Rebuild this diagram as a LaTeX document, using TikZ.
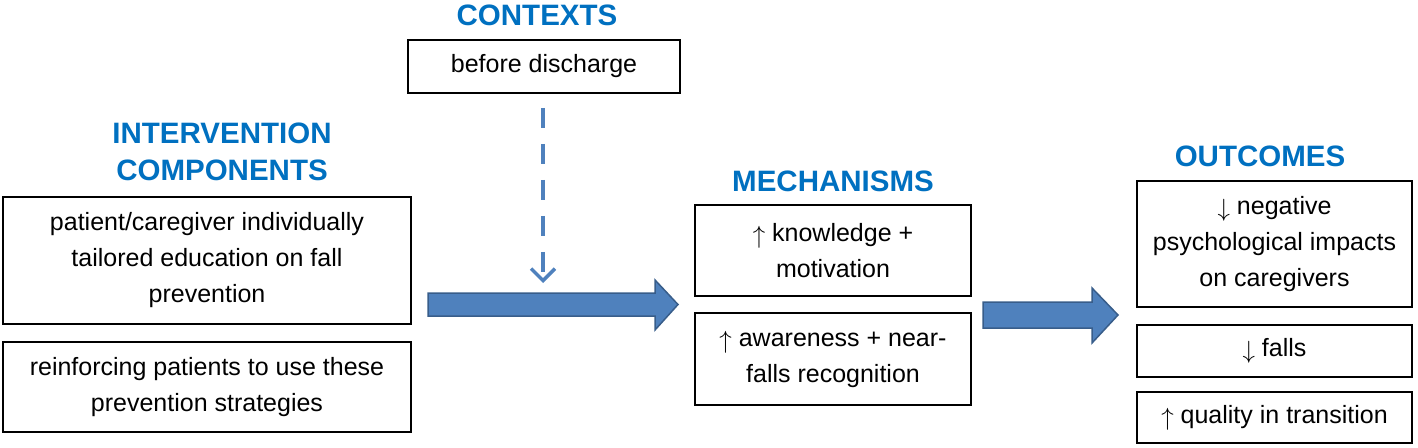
\documentclass[tikz,border=0pt]{standalone}
\usepackage{fontspec}
\setmainfont{Liberation Sans}
\usetikzlibrary{arrows.meta}
\definecolor{ttl}{HTML}{0070C0}
\definecolor{arrfill}{HTML}{4F81BD}
\definecolor{arrdraw}{HTML}{385D8A}
\newcommand{\myup}{\raisebox{-0.08em}{$\uparrow$}}
\newcommand{\mydown}{\raisebox{-0.08em}{$\downarrow$}}
\tikzset{
  box/.style={draw=black, line width=1.6pt, align=center, inner sep=0pt,
    font=\fontsize{25}{36}\selectfont},
  ttlnode/.style={text=ttl, font=\fontsize{29.5}{37}\selectfont\bfseries, align=center, inner sep=0pt},
  fatarrow/.style={fill=arrfill, draw=arrdraw, line width=1.5pt, line join=miter},
  dasharrow/.style={draw=arrfill, line width=3.5pt, dash pattern=on 20pt off 16pt,
    -{Straight Barb[length=12pt,width=24pt,line width=3.5pt]}}
}
\begin{document}
\begin{tikzpicture}[x=1pt,y=-1pt]
\useasboundingbox (0,0) rectangle (1418,447);
% titles
\node[ttlnode] (tctx) at (537,15) {CONTEXTS};
\node[ttlnode] (tint) at (222,152) {INTERVENTION\\COMPONENTS};
\node[ttlnode] (tmech) at (833,181) {MECHANISMS};
\node[ttlnode] (tout) at (1260,156) {OUTCOMES};
% boxes
\node[box, minimum width=272pt, minimum height=53pt] (ctx) at (544,66.5) {\raisebox{-2pt}{before discharge}};
\node[box, minimum width=408pt, minimum height=127pt] (ic1) at (207,260.5)
  {patient/caregiver individually\\tailored education on fall\\prevention};
\node[box, minimum width=408pt, minimum height=90pt] (ic2) at (207,387)
  {reinforcing patients to use these\\prevention strategies};
\node[box, minimum width=276pt, minimum height=91pt] (m1) at (833,250.5)
  {\myup{} knowledge +\\motivation};
\node[box, minimum width=276pt, minimum height=92pt] (m2) at (833,359)
  {\myup{} awareness + near-\\falls recognition};
\node[box, minimum width=275pt, minimum height=126pt] (o1) at (1274.5,244)
  {\mydown{} negative\\psychological impacts\\on caregivers};
\node[box, minimum width=275pt, minimum height=52pt] (o2) at (1274.5,351)
  {\mydown{} falls};
\node[box, minimum width=275pt, minimum height=51pt] (o3) at (1274.5,417.5)
  {\myup{} quality in transition};
% fat arrows
\coordinate (a1s) at (428,304.5);
\coordinate (a1t) at (678,304.5);
\draw[fatarrow] (a1s |- 0,293) -- (655,293) -- (655,280) -- (a1t) -- (655,330) -- (655,316) -- (a1s |- 0,316) -- cycle;
\coordinate (a2s) at (983,315);
\coordinate (a2t) at (1118,315);
\draw[fatarrow] (a2s |- 0,302) -- (1092,302) -- (1092,288) -- (a2t) -- (1092,343) -- (1092,328) -- (a2s |- 0,328) -- cycle;
% dashed arrow
\coordinate (dtip) at (543,283);
\draw[dasharrow] ([yshift=-14pt]ctx.south -| dtip) -- (dtip);
\end{tikzpicture}
\end{document}
